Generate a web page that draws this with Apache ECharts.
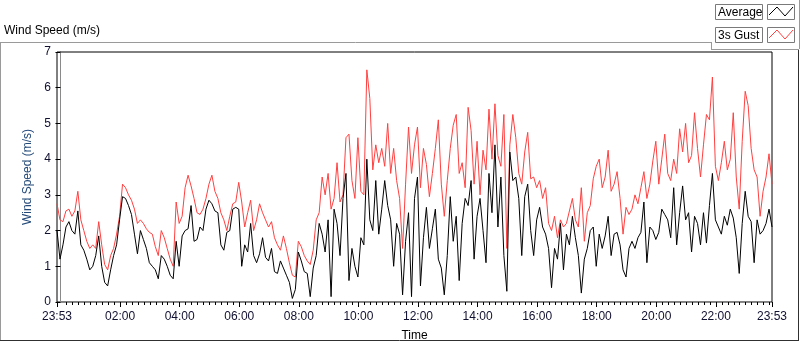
<!DOCTYPE html>
<html>
<head>
<meta charset="utf-8">
<script src="https://cdn.jsdelivr.net/npm/echarts@6/dist/echarts.min.js"></script>
<style>
html, body { margin: 0; padding: 0; background: #fff; }
#chart { width: 800px; height: 342px; }
</style>
</head>
<body>
<div id="chart"></div>
<script>
var seriesNames = ['Average', '3s Gust'];
var timeLabels = ['23:53', '02:00', '04:00', '06:00', '08:00', '10:00', '12:00',
  '14:00', '16:00', '18:00', '20:00', '22:00', '23:53'];
// minutes from midnight, one sample every 6 min starting 23:53 the day before
var startMinute = -7, stepMinutes = 6;

var average = [
  2.0, 1.2, 1.6, 2.1, 2.25, 2.0, 1.9, 2.55, 1.6, 1.45,
  1.2, 0.9, 1.0, 1.3, 1.85, 1.0, 0.55, 0.45, 0.9, 1.3,
  1.6, 2.3, 2.95, 2.9, 2.7, 2.45, 1.9, 1.35, 2.0, 1.75,
  1.5, 1.1, 1.0, 0.9, 0.65, 1.3, 1.2, 1.0, 0.75, 0.65,
  1.7, 1.0, 1.85, 2.0, 2.05, 2.7, 1.7, 1.75, 2.1, 2.0,
  2.6, 2.85, 2.75, 2.55, 2.5, 1.6, 1.45, 1.95, 2.0, 2.6,
  2.65, 2.6, 1.0, 1.6, 1.4, 2.2, 1.3, 1.1, 1.35, 1.8,
  1.25, 1.15, 1.5, 0.85, 0.8, 1.15, 0.95, 0.75, 0.55, 0.1,
  0.35, 1.4, 1.15, 0.85, 0.8, 0.15, 0.95, 1.3, 2.2, 1.9,
  1.4, 2.3, 0.15, 2.6, 2.2, 1.3, 2.9, 3.6, 0.6, 1.5,
  1.0, 0.7, 1.8, 1.6, 4.0, 2.3, 2.0, 3.4, 1.9, 2.6,
  3.4, 2.7, 2.3, 1.0, 2.2, 1.9, 0.2, 1.7, 2.5, 0.15,
  2.9, 3.5, 0.45, 1.8, 2.65, 1.5, 2.05, 2.6, 1.2, 0.95,
  0.2, 1.3, 2.95, 1.7, 2.4, 0.6, 2.2, 2.9, 2.7, 3.4,
  1.2, 2.4, 2.9, 2.0, 1.1, 3.6, 2.5, 4.4, 2.1, 3.5,
  1.3, 0.3, 4.2, 3.4, 3.5, 2.9, 1.3, 2.95, 3.3, 2.0,
  1.3, 2.3, 2.65, 2.1, 1.9, 1.5, 0.4, 1.5, 1.2, 2.2,
  0.9, 1.9, 1.6, 2.4, 1.8, 1.3, 0.25, 1.2, 1.5, 2.0,
  2.1, 1.0, 1.9, 1.5, 1.85, 2.4, 1.3, 1.9, 1.95, 1.6,
  0.9, 0.7, 1.5, 1.7, 1.5, 1.8, 1.95, 2.8, 1.1, 2.1,
  2.0, 1.75, 1.95, 2.6, 2.45, 2.3, 1.8, 3.2, 1.6, 2.5,
  3.25, 2.3, 2.5, 1.4, 2.4, 2.2, 1.6, 2.5, 1.65, 2.7,
  3.6, 2.3, 2.1, 1.9, 2.4, 2.15, 2.6, 2.35, 1.8, 0.8,
  2.2, 3.1, 2.4, 2.25, 1.1, 2.3, 1.9, 2.0, 2.2, 2.6,
  2.1
];

var gust = [
  2.75, 2.3, 2.25, 2.55, 2.6, 2.4, 2.55, 3.1, 2.3, 2.0,
  1.7, 1.5, 1.6, 1.5, 2.25, 1.6, 1.05, 0.9, 1.3, 1.5,
  1.9, 2.4, 3.3, 3.2, 3.0, 2.85, 2.6, 2.2, 2.3, 2.2,
  2.05, 1.95, 1.9, 1.55, 1.3, 2.0, 1.8, 1.5, 1.2, 1.0,
  2.8, 2.2, 2.4, 3.2, 3.55, 3.25, 2.9, 2.5, 2.45, 2.6,
  2.9, 3.3, 3.55, 3.1, 2.9, 2.5, 2.3, 2.0, 2.4, 2.75,
  2.8, 3.35, 2.8, 2.1, 2.5, 2.85, 2.0, 2.3, 2.75, 2.5,
  2.3, 2.1, 2.25, 1.8, 1.6, 1.45, 1.85, 1.5, 1.1, 0.75,
  0.7, 1.7, 1.55, 1.3, 1.15, 1.05, 1.45, 2.3, 2.5, 3.5,
  3.0, 3.6, 2.6, 2.9, 3.9, 2.8, 3.0, 4.6, 4.7, 3.4,
  2.9, 4.6, 3.1, 3.0, 6.5, 5.7, 3.7, 4.4, 3.9, 4.3,
  3.8, 5.0, 3.6, 4.3, 3.4, 2.9, 1.5, 3.3, 4.9, 3.6,
  4.4, 4.9, 3.2, 4.3, 3.85, 2.95, 3.6, 4.3, 5.1, 3.3,
  2.4, 3.4, 4.3, 4.95, 5.25, 3.6, 3.9, 3.2, 5.45, 4.8,
  3.3, 4.5, 3.0, 4.25, 3.7, 5.4, 4.0, 5.55, 4.1, 3.8,
  5.25, 1.5, 4.4, 5.25, 4.6, 3.6, 3.3, 4.2, 4.75, 3.45,
  3.5, 3.2, 3.4, 2.9, 3.2, 2.2, 2.0, 2.4, 1.8, 2.3,
  2.1, 2.2, 2.55, 2.9, 2.3, 2.1, 3.2, 1.7, 2.5, 2.7,
  3.45, 3.8, 4.0, 3.2, 3.5, 4.25, 3.1, 3.3, 3.65, 2.9,
  1.9, 2.65, 2.45, 2.6, 3.0, 2.75, 3.2, 3.65, 2.9, 3.3,
  3.95, 4.5, 3.3, 4.0, 4.7, 3.6, 3.4, 4.0, 3.6, 4.85,
  4.2, 5.0, 3.9, 4.1, 5.3, 4.3, 3.5, 4.4, 5.25, 5.1,
  6.3, 3.8, 3.4, 3.9, 4.5, 3.7, 4.0, 5.3, 3.5, 2.6,
  4.5, 5.9, 5.5, 4.3, 3.7, 3.5, 2.4, 3.1, 3.5, 4.15,
  3.3
];

var majorTicks = timeLabels.map(function (t, i) {
  if (i === 0) return startMinute;
  if (i === timeLabels.length - 1) return startMinute + 1440;
  var p = t.split(':');
  return +p[0] * 60 + +p[1];
});
var minorTicks = [];
for (var m = 0; m < 1440; m += 12) if (m % 120) minorTicks.push(m);

function pairs(arr) {
  return arr.map(function (v, i) { return [startMinute + i * stepMinutes, v]; });
}

var font = 'Liberation Sans';
var chart = echarts.init(document.getElementById('chart'));

function legendItem(top, label, color) {
  return [
    { type: 'rect', shape: { x: 715.5, y: top + 0.5, width: 47, height: 15 },
      style: { fill: '#fff', stroke: '#7a7a7a', lineWidth: 1 } },
    { type: 'text', x: 718, y: top + 8.5,
      style: { text: label, fill: '#000', font: '12px ' + font, textVerticalAlign: 'middle' } },
    { type: 'rect', shape: { x: 767.5, y: top + 0.5, width: 27, height: 15 },
      style: { fill: '#fff', stroke: '#7a7a7a', lineWidth: 1 } },
    { type: 'polyline', shape: { points: [[769, top + 11], [777, top + 3], [785, top + 12], [793, top + 3]] },
      style: { stroke: color, lineWidth: 1, fill: null } }
  ];
}

var graphics = [
  { type: 'text', x: 4, y: 31, style: { text: 'Wind Speed (m/s)', fill: '#000', font: '12px ' + font, textVerticalAlign: 'middle' } },
  { type: 'line', shape: { x1: 0, y1: 42.5, x2: 711, y2: 42.5 }, style: { stroke: '#9a9a9a' } },
  { type: 'line', shape: { x1: 0.5, y1: 42, x2: 0.5, y2: 341 }, style: { stroke: '#9a9a9a' } },
  { type: 'line', shape: { x1: 0, y1: 340.5, x2: 799, y2: 340.5 }, style: { stroke: '#303030' } },
  { type: 'line', shape: { x1: 798.5, y1: 49, x2: 798.5, y2: 341 }, style: { stroke: '#303030' } },
  { type: 'line', shape: { x1: 711.5, y1: 42, x2: 711.5, y2: 49.5 }, style: { stroke: '#9a9a9a' } },
  { type: 'line', shape: { x1: 711, y1: 49.5, x2: 799, y2: 49.5 }, style: { stroke: '#9a9a9a' } },
  { type: 'line', shape: { x1: 799.5, y1: 0, x2: 799.5, y2: 49 }, style: { stroke: '#9a9a9a' } }
].concat(legendItem(4, seriesNames[0], '#000'), legendItem(27, seriesNames[1], '#ff4040'));

var option = {
  animation: false,
  textStyle: { fontFamily: font },
  grid: {
    left: 57, right: 28, top: 52, bottom: 40, outerBoundsMode: 'none', containLabel: false,
    show: true, borderColor: '#000', borderWidth: 1, backgroundColor: '#fff'
  },
  xAxis: [{
    type: 'value', min: majorTicks[0], max: majorTicks[majorTicks.length - 1], position: 'bottom',
    name: 'Time', nameLocation: 'middle', nameGap: 28,
    nameTextStyle: { color: '#000', fontSize: 12, fontFamily: font },
    axisLine: { show: true, lineStyle: { color: '#8a8a8a', width: 1 } },
    axisTick: { show: true, customValues: majorTicks, length: 5, lineStyle: { color: '#000' } },
    axisLabel: {
      customValues: majorTicks, margin: 9, color: '#101030', fontSize: 12, fontFamily: font,
      formatter: function (v) { var k = majorTicks.indexOf(v); return k < 0 ? '' : timeLabels[k]; }
    },
    splitLine: { show: false }
  }, {
    type: 'value', min: majorTicks[0], max: majorTicks[majorTicks.length - 1], position: 'bottom',
    axisLine: { show: false },
    axisTick: { show: true, customValues: minorTicks, length: 3, lineStyle: { color: '#000' } },
    axisLabel: { show: false }, splitLine: { show: false }
  }],
  yAxis: [{
    type: 'value', min: 0, max: 7, interval: 1,
    name: 'Wind Speed (m/s)', nameLocation: 'middle', nameGap: 14,
    nameTextStyle: { color: '#244a7a', fontSize: 12, fontFamily: font },
    axisLine: { show: true, lineStyle: { color: '#000' } },
    axisTick: { show: true, length: 5, lineStyle: { color: '#000' } },
    axisLabel: { margin: 6, color: '#101030', fontSize: 12, fontFamily: font },
    splitLine: { show: false }
  }, {
    type: 'value', min: 0, max: 7, position: 'right',
    axisLine: { show: true, lineStyle: { color: '#8a8a8a' } },
    axisTick: { show: false }, axisLabel: { show: false }, splitLine: { show: false }
  }],
  series: [{
    name: seriesNames[1], type: 'line', data: pairs(gust), symbol: 'none', silent: true,
    lineStyle: { color: '#ff4040', width: 1 }, z: 2
  }, {
    name: seriesNames[0], type: 'line', data: pairs(average), symbol: 'none', silent: true,
    lineStyle: { color: '#000', width: 1 }, z: 3
  }],
  graphic: graphics
};
chart.setOption(option);
</script>
</body>
</html>
